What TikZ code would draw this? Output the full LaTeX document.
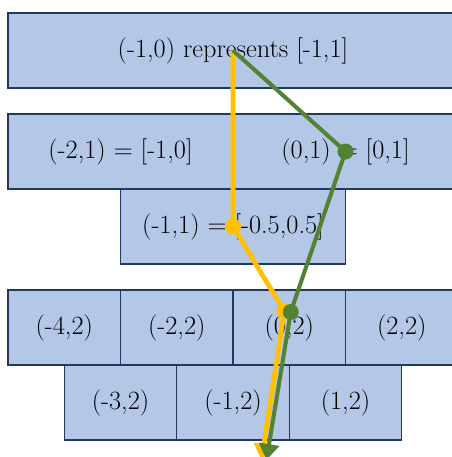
\documentclass[tikz,border=0pt]{standalone}
\usepackage{xcolor}
\usetikzlibrary{arrows.meta, positioning, calc}
\definecolor{cellfill}{HTML}{B4C7E7}
\definecolor{celledge}{HTML}{203864}
\definecolor{pathyellow}{HTML}{FFC000}
\definecolor{pathgreen}{HTML}{548235}

\begin{document}
\begin{tikzpicture}[
    cell/.style={draw=celledge, fill=cellfill, line width=0.6pt, minimum width=2.25cm,
        minimum height=1.5cm, inner sep=0pt, outer sep=0pt, font=\fontsize{15}{18}\selectfont},
    halfcell/.style={cell, minimum width=4.5cm},
    wholecell/.style={cell, minimum width=9cm},
    route/.style={line width=2.7pt, -{Triangle[length=3.2mm, width=4mm]}},
    dot/.style={circle, inner sep=0pt, minimum size=3.2mm}]
    \useasboundingbox (0,0) rectangle (9.02,9.14);
    % level 0
    \node[wholecell, anchor=north west] (root) at (0.16,8.88) {(-1,0) represents [-1,1]};
    % level 1
    \node[halfcell, anchor=north west] (left1) at (0.16,6.86) {(-2,1) = [-1,0]};
    \node[halfcell, right=0pt of left1] (right1) {(0,1) = [0,1]};
    \node[halfcell, below=0pt of left1.south east] (mid1) {(-1,1) = [-0.5,0.5]};
    % level 2
    \node[cell, anchor=north west] (neg4) at (0.16,3.34) {(-4,2)};
    \node[cell, right=0pt of neg4] (neg2) {(-2,2)};
    \node[cell, right=0pt of neg2] (zero) {(0,2)};
    \node[cell, right=0pt of zero] (pos2) {(2,2)};
    \node[cell, below=0pt of neg4.south east] (neg3) {(-3,2)};
    \node[cell, right=0pt of neg3] (neg1) {(-1,2)};
    \node[cell, right=0pt of neg1] (pos1) {(1,2)};
    % paths
    \coordinate (ystop) at ($(zero.center)+(-0.1,0.33)$);
    \coordinate (gstop) at ($(zero.center)+(0.03,0.31)$);
    \coordinate (yend) at (5.23,-0.06);
    \coordinate (gend) at (5.33,-0.06);
    \draw[route, pathyellow] (root.center) -- (mid1.center) -- (ystop) -- (yend);
    \node[dot, fill=pathyellow] (ydot1) at (mid1.center) {};
    \node[dot, fill=pathyellow] (ydot2) at (ystop) {};
    \draw[route, pathgreen, line width=2.3pt] (root.center) -- (right1.center) -- (gstop) -- (gend);
    \node[dot, fill=pathgreen] (gdot1) at (right1.center) {};
    \node[dot, fill=pathgreen] (gdot2) at (gstop) {};
\end{tikzpicture}
\end{document}
